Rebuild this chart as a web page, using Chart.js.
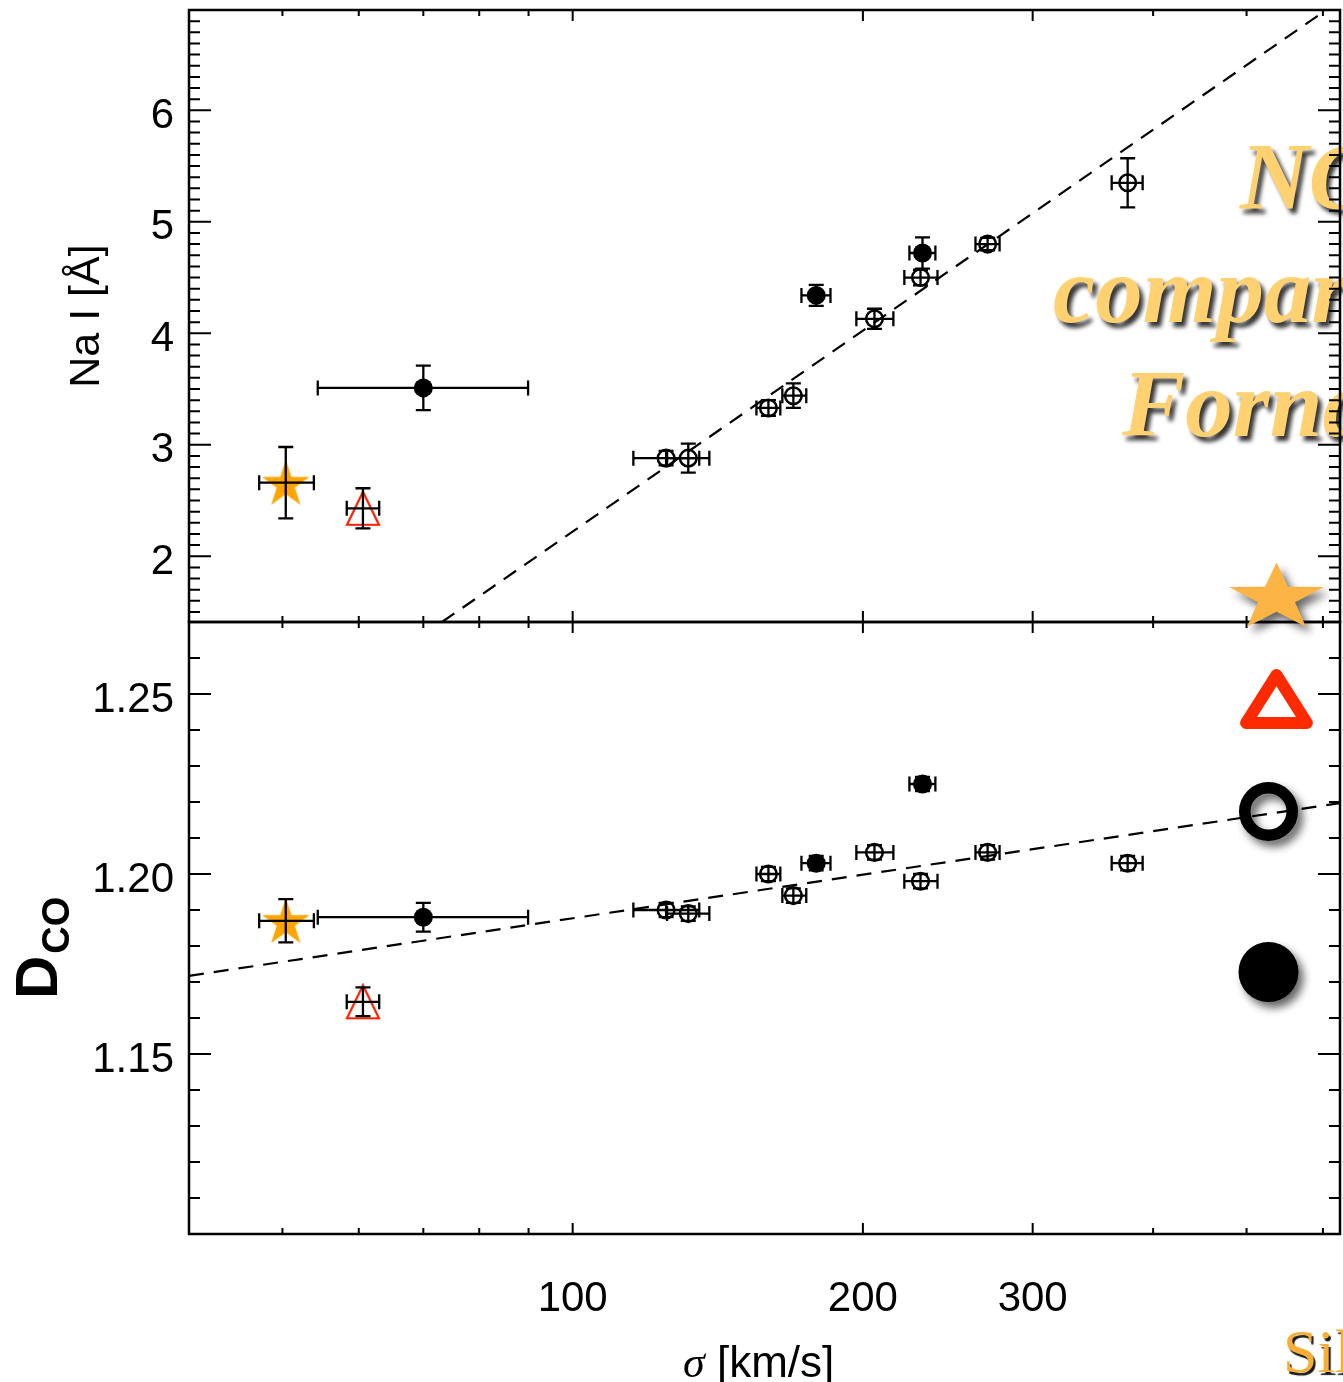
<!DOCTYPE html>
<html>
<head>
<meta charset="utf-8">
<title>Na I and D_CO versus sigma</title>
<script src="https://cdn.jsdelivr.net/npm/chart.js@4.4.1/dist/chart.umd.min.js"></script>
<style>
  html, body { margin: 0; padding: 0; background: #fff; }
  #page { position: relative; width: 1343px; height: 1382px; overflow: hidden; background: #fff; }
  #page canvas { position: absolute; left: 0; }
  .slide { position: absolute; white-space: nowrap; font-family: "Liberation Serif", serif;
           font-weight: bold; font-style: italic; font-size: 95px; line-height: 95px;
           color: #FFD170; text-shadow: 4px 5px 4px rgba(0,0,0,0.8); }
  .credit { position: absolute; left: 1283px; top: 1320px; white-space: nowrap;
            font-family: "Liberation Serif", serif; font-size: 62px; line-height: 62px;
            color: #F8AE35; text-shadow: 2px 3px 1px rgba(0,0,0,0.9); }
  #dco { position: absolute; left: 7px; top: 999px; transform: rotate(-90deg); transform-origin: 0 0;
         font-family: "Liberation Sans", Arial, sans-serif; font-weight: bold; font-size: 60px;
         line-height: 60px; white-space: nowrap; }
  #dco span { font-size: 38px; position: relative; top: 12px; margin-left: 2px; }
  #xtitle { position: absolute; left: 683px; top: 1340px; white-space: nowrap;
            font-family: "Liberation Sans", Arial, sans-serif; font-size: 44px; line-height: 44px; }
  #xtitle i { font-family: "Liberation Serif", serif; }
</style>
</head>
<body>
<div id="page">
  <div class="slide" style="left:1240px; top:130px">NGC</div>
  <div class="slide" style="left:1053px; top:243px">compared</div>
  <div class="slide" style="left:1122px; top:357px">Fornax</div>
  <div class="credit">Sil</div>
  <canvas id="topPanel" width="1343" height="640" style="top:0"></canvas>
  <canvas id="bottomPanel" width="1343" height="782" style="top:600px"></canvas>
  <div id="dco">D<span>CO</span></div>
  <div id="xtitle"><i>σ</i> [km/s]</div>
  <canvas id="deco" width="1343" height="1382" style="top:0"></canvas>
</div>
<script>
// ---- values ----
const xMajorTicks = [100, 200, 300];
const xMinorTicks = [50, 60, 70, 80, 90, 400, 500, 600];
const naTicks = [2, 3, 4, 5, 6];
const dcoTicks = [1.15, 1.20, 1.25];

// star
const starSigma = [50.4], starSigmaLo = [47.3], starSigmaHi = [53.9];
const starNa = [2.66], starNaErr = [0.32];
const starDco = [1.187], starDcoErr = [0.006];

// open triangle
const triSigma = [60.6], triSigmaLo = [58.3], triSigmaHi = [63.0];
const triNa = [2.43], triNaErr = [0.18];
const triDco = [1.1645], triDcoErr = [0.004];

// filled circles
const fillSigma   = [70.0, 178.9, 230.6];
const fillSigmaLo = [54.4, 172.7, 223.5];
const fillSigmaHi = [89.9, 185.1, 237.8];
const fillNa      = [3.51, 4.34, 4.72];
const fillNaErr   = [0.20, 0.095, 0.14];
const fillDco     = [1.188, 1.203, 1.225];
const fillDcoErr  = [0.004, 0.002, 0.002];

// open circles
const openSigma   = [125.0, 131.8, 159.6, 169.4, 205.6, 229.5, 269.4, 376.4];
const openSigmaLo = [115.6, 125.3, 155.1, 165.0, 196.9, 220.8, 261.7, 362.3];
const openSigmaHi = [135.3, 138.6, 164.2, 174.7, 215.1, 239.0, 277.2, 390.1];
const openNa      = [2.88, 2.88, 3.33, 3.44, 4.13, 4.50, 4.80, 5.35];
const openNaErr   = [0.065, 0.13, 0.07, 0.11, 0.09, 0.07, 0.055, 0.22];
const openDco     = [1.190, 1.189, 1.200, 1.194, 1.206, 1.198, 1.206, 1.203];
const openDcoErr  = [0.002, 0.002, 0.002, 0.002, 0.002, 0.002, 0.002, 0.002];

// dashed fits
const naFitSigma = [73.2, 600];
const naFitValue = [1.41, 6.88];
const dcoFitSigma = [40, 625];
const dcoFitValue = [1.1717, 1.2197];

const FONT = '"Liberation Sans", Arial, sans-serif';

function points(sig, lo, hi, val, err) {
  return sig.map(function (s, i) {
    return { x: s, y: val[i], xMin: lo[i], xMax: hi[i], yMin: val[i] - err[i], yMax: val[i] + err[i] };
  });
}

function starImage(R, color) {
  const c = document.createElement('canvas');
  c.width = Math.ceil(2 * R * 0.951) + 2;
  c.height = Math.ceil(R * 1.809) + 2;
  const g = c.getContext('2d');
  const cx = c.width / 2, cy = 1 + R, r = R * 0.382;
  g.beginPath();
  for (let k = 0; k < 10; k++) {
    const a = k * Math.PI / 5, rr = k % 2 ? r : R;
    g.lineTo(cx + rr * Math.sin(a), cy - rr * Math.cos(a));
  }
  g.closePath();
  g.fillStyle = color;
  g.fill();
  return c;
}

function triangleImage(w, h, color) {
  const c = document.createElement('canvas');
  c.width = w + 4; c.height = h + 4;
  const g = c.getContext('2d');
  g.beginPath();
  g.moveTo(c.width / 2, 2);
  g.lineTo(2, h + 2);
  g.lineTo(w + 2, h + 2);
  g.closePath();
  g.strokeStyle = color;
  g.lineWidth = 2.2;
  g.stroke();
  return c;
}

const starImg = starImage(25, '#FFA500');
const triImg = triangleImage(32, 33, '#FF2200');

// error bars with caps, drawn on top of the symbols
const CAP = 7.5;
const errorBars = {
  id: 'errorBars',
  afterDatasetsDraw(chart) {
    const ctx = chart.ctx, x = chart.scales.x, y = chart.scales.y;
    ctx.save();
    ctx.strokeStyle = '#000';
    ctx.lineWidth = 2.3;
    chart.data.datasets.forEach(function (ds) {
      if (!ds.errorBars) return;
      ds.data.forEach(function (p) {
        const px = x.getPixelForValue(p.x), py = y.getPixelForValue(p.y);
        const x0 = x.getPixelForValue(p.xMin), x1 = x.getPixelForValue(p.xMax);
        const y0 = y.getPixelForValue(p.yMin), y1 = y.getPixelForValue(p.yMax);
        ctx.beginPath();
        ctx.moveTo(x0, py); ctx.lineTo(x1, py);
        ctx.moveTo(x0, py - CAP); ctx.lineTo(x0, py + CAP);
        ctx.moveTo(x1, py - CAP); ctx.lineTo(x1, py + CAP);
        ctx.moveTo(px, y0); ctx.lineTo(px, y1);
        ctx.moveTo(px - CAP, y0); ctx.lineTo(px + CAP, y0);
        ctx.moveTo(px - CAP, y1); ctx.lineTo(px + CAP, y1);
        ctx.stroke();
      });
    });
    ctx.restore();
  }
};

// IDL style box with inward ticks on all four sides
const frame = {
  id: 'frame',
  afterDraw(chart, args, o) {
    const ctx = chart.ctx, a = chart.chartArea, x = chart.scales.x, y = chart.scales.y;
    ctx.save();
    ctx.strokeStyle = '#000';
    ctx.lineWidth = 2;
    ctx.beginPath();
    function xt(v, len) {
      const p = x.getPixelForValue(v);
      ctx.moveTo(p, a.top); ctx.lineTo(p, a.top + len);
      ctx.moveTo(p, a.bottom); ctx.lineTo(p, a.bottom - len);
    }
    function yt(v, len) {
      const p = y.getPixelForValue(v);
      ctx.moveTo(a.left, p); ctx.lineTo(a.left + len, p);
      ctx.moveTo(a.right, p); ctx.lineTo(a.right - len, p);
    }
    xMajorTicks.forEach(function (v) { xt(v, 11); });
    xMinorTicks.forEach(function (v) { xt(v, 6); });
    o.major.forEach(function (v) { yt(v, 22); });
    const step = o.minorStep;
    for (let k = Math.ceil(y.min / step - 1e-6); k * step <= y.max + 1e-6; k++) {
      const v = k * step;
      if (o.major.some(function (m) { return Math.abs(m - v) < step / 10; })) continue;
      yt(v, 11);
    }
    ctx.stroke();
    ctx.lineWidth = 2.5;
    ctx.strokeRect(a.left, a.top, a.width, a.height);
    ctx.restore();
  }
};

function panel(canvas, cfg) {
  return new Chart(canvas, {
    type: 'scatter',
    data: {
      datasets: [
        { data: points(starSigma, starSigmaLo, starSigmaHi, cfg.star, cfg.starErr),
          pointStyle: starImg, pointRadius: 12, errorBars: true },
        { data: points(triSigma, triSigmaLo, triSigmaHi, cfg.tri, cfg.triErr),
          pointStyle: triImg, pointRadius: 12, errorBars: true },
        { data: points(fillSigma, fillSigmaLo, fillSigmaHi, cfg.fill, cfg.fillErr),
          pointStyle: 'circle', pointRadius: 9.5, backgroundColor: '#000', borderWidth: 0, errorBars: true },
        { data: points(openSigma, openSigmaLo, openSigmaHi, cfg.open, cfg.openErr),
          pointStyle: 'circle', pointRadius: 8.3, backgroundColor: 'rgba(0,0,0,0)',
          borderColor: '#000', borderWidth: 2.5, errorBars: true },
        { data: cfg.fitX.map(function (s, i) { return { x: s, y: cfg.fitY[i] }; }),
          showLine: true, borderColor: '#000', borderWidth: 2.2, borderDash: [15, 10], pointRadius: 0 }
      ]
    },
    options: {
      responsive: false,
      animation: false,
      events: [],
      layout: { padding: cfg.padding, autoPadding: false },
      plugins: {
        legend: { display: false },
        tooltip: { enabled: false },
        frame: { major: cfg.ticks, minorStep: cfg.minorStep }
      },
      scales: {
        x: {
          type: 'logarithmic', min: 40, max: 625, display: cfg.showX,
          grid: { display: false, drawTicks: false }, border: { display: false },
          afterBuildTicks: function (s) { s.ticks = xMajorTicks.map(function (v) { return { value: v }; }); },
          afterFit: function (s) { s.height = cfg.showX ? 148 : 0; s.paddingLeft = 0; s.paddingRight = 0; },
          ticks: { callback: function (v) { return String(v); }, autoSkip: false, maxRotation: 0,
                   font: { family: FONT, size: 42 }, color: '#000', padding: 40 }
        },
        y: {
          min: cfg.min, max: cfg.max,
          grid: { display: false, drawTicks: false }, border: { display: false },
          afterBuildTicks: function (s) { s.ticks = cfg.ticks.map(function (v) { return { value: v }; }); },
          afterFit: function (s) { s.width = 189; s.paddingTop = 0; s.paddingBottom = 0; },
          ticks: { callback: cfg.fmt, font: { family: FONT, size: 42 }, color: '#000',
                   padding: 15, labelOffset: 6 },
          title: cfg.title
        }
      }
    },
    plugins: [errorBars, frame]
  });
}

panel(document.getElementById('topPanel'), {
  star: starNa, starErr: starNaErr, tri: triNa, triErr: triNaErr,
  fill: fillNa, fillErr: fillNaErr, open: openNa, openErr: openNaErr,
  fitX: naFitSigma, fitY: naFitValue,
  min: 1.41, max: 6.9, ticks: naTicks, minorStep: 0.1,
  fmt: function (v) { return String(v); },
  showX: false,
  padding: { top: 10, right: 3, bottom: 18, left: 0 },
  title: { display: true, text: 'Na I [Å]', color: '#000', font: { family: FONT, size: 43 },
           padding: { top: 61, bottom: 0 } }
});

const bottom = panel(document.getElementById('bottomPanel'), {
  star: starDco, starErr: starDcoErr, tri: triDco, triErr: triDcoErr,
  fill: fillDco, fillErr: fillDcoErr, open: openDco, openErr: openDcoErr,
  fitX: dcoFitSigma, fitY: dcoFitValue,
  min: 1.10, max: 1.27, ticks: dcoTicks, minorStep: 0.01,
  fmt: function (v) { return v.toFixed(2); },
  showX: true,
  padding: { top: 22, right: 3, bottom: 0, left: 0 },
  title: { display: false }
});

// large legend symbols of the slide, to the right of the plot
(function () {
  const g = document.getElementById('deco').getContext('2d');
  const right = bottom.chartArea.right;
  const cx = right - 63.5, ccx = right - 71.5;
  g.save();
  g.shadowColor = 'rgba(0,0,0,0.6)';
  g.shadowBlur = 8;
  g.shadowOffsetX = 5;
  g.shadowOffsetY = 6;
  // star, slightly flattened
  g.beginPath();
  for (let k = 0; k < 10; k++) {
    const a = k * Math.PI / 5, f = k % 2 ? 0.39 : 1;
    g.lineTo(cx + 50 * f * Math.sin(a), 598 - 35.4 * f * Math.cos(a));
  }
  g.closePath();
  g.fillStyle = '#FCB445';
  g.fill();
  // open circle
  g.beginPath();
  g.arc(ccx, 811.5, 23.75, 0, 2 * Math.PI);
  g.lineWidth = 11.5;
  g.strokeStyle = '#000';
  g.stroke();
  // filled circle
  g.beginPath();
  g.arc(ccx, 972, 30, 0, 2 * Math.PI);
  g.fillStyle = '#000';
  g.fill();
  g.restore();
  // triangle
  g.beginPath();
  g.moveTo(cx, 675);
  g.lineTo(cx - 30.4, 723);
  g.lineTo(cx + 30.4, 723);
  g.closePath();
  g.lineJoin = 'round';
  g.lineWidth = 12;
  g.strokeStyle = '#FF2A00';
  g.stroke();
})();
</script>
</body>
</html>
